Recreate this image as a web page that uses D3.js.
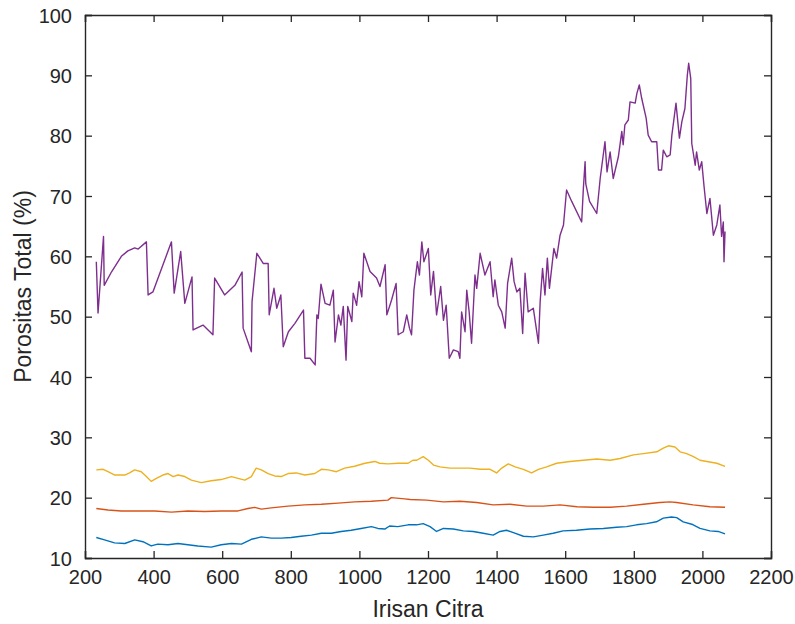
<!DOCTYPE html>
<html>
<head>
<meta charset="utf-8">
<script src="https://cdn.jsdelivr.net/npm/d3@7"></script>
<style>
  html, body { margin: 0; padding: 0; background: #fff; }
  svg { display: block; }
  text { font-family: "Liberation Sans", Arial, Helvetica, sans-serif; fill: #262626; }
</style>
</head>
<body>
<svg id="chart" width="795" height="624"></svg>
<script>
// ---- Data ----
const xLabel = "Irisan Citra";
const yLabel = "Porositas Total (%)";
const xTickValues = [200, 400, 600, 800, 1000, 1200, 1400, 1600, 1800, 2000, 2200];
const yTickValues = [10, 20, 30, 40, 50, 60, 70, 80, 90, 100];

const blueX = [233,257,286,316,345,369,393,412,442,471,500,529,568,597,627,656,685,714,743,772,801,830,860,889,918,947,976,1005,1035,1054,1074,1088,1112,1142,1167,1186,1206,1225,1245,1274,1303,1332,1361,1390,1410,1429,1449,1478,1507,1536,1565,1594,1633,1672,1711,1750,1779,1808,1837,1866,1886,1910,1925,1944,1969,1993,2022,2046,2066];
const blueY = [13.4,13.0,12.5,12.4,13.0,12.7,12.0,12.3,12.2,12.4,12.2,12.0,11.8,12.2,12.4,12.3,13.1,13.5,13.3,13.3,13.4,13.6,13.8,14.1,14.1,14.4,14.6,14.9,15.2,14.9,14.8,15.3,15.2,15.5,15.5,15.7,15.2,14.4,14.9,14.8,14.5,14.4,14.1,13.8,14.4,14.6,14.2,13.6,13.5,13.8,14.1,14.5,14.6,14.8,14.9,15.1,15.2,15.5,15.7,16.0,16.6,16.8,16.7,16.0,15.6,14.9,14.5,14.4,14.0];

const redX = [233,267,306,355,403,452,500,549,597,646,675,695,714,743,792,841,889,938,986,1035,1083,1093,1132,1148,1196,1245,1293,1342,1390,1439,1488,1536,1585,1634,1682,1731,1779,1828,1876,1905,1925,1973,2022,2066];
const redY = [18.2,17.95,17.8,17.8,17.8,17.6,17.8,17.7,17.8,17.8,18.2,18.4,18.1,18.3,18.6,18.8,18.9,19.1,19.3,19.4,19.6,20.0,19.8,19.7,19.6,19.3,19.4,19.2,18.8,18.9,18.6,18.6,18.8,18.5,18.4,18.4,18.6,18.9,19.2,19.3,19.2,18.8,18.5,18.4];

const yellowX = [233,253,267,287,316,330,345,364,379,393,408,427,442,457,471,491,510,539,568,597,627,646,666,685,699,714,734,753,772,792,816,841,870,889,909,933,957,986,1016,1045,1059,1083,1113,1142,1156,1167,1186,1201,1216,1235,1264,1293,1323,1352,1381,1400,1415,1434,1454,1478,1502,1522,1546,1575,1614,1653,1692,1731,1760,1799,1828,1867,1886,1901,1920,1935,1954,1974,1993,2013,2042,2066];
const yellowY = [24.6,24.7,24.3,23.75,23.75,24.1,24.6,24.3,23.5,22.7,23.2,23.75,24.0,23.5,23.75,23.5,22.9,22.5,22.8,23.0,23.5,23.2,22.9,23.5,24.9,24.6,24.0,23.6,23.5,24.0,24.1,23.75,24.0,24.7,24.6,24.3,24.9,25.2,25.7,26.0,25.7,25.6,25.7,25.7,26.2,26.2,26.8,26.2,25.4,25.1,24.9,24.9,24.9,24.7,24.7,24.1,24.9,25.6,25.1,24.7,24.1,24.7,25.1,25.7,26.0,26.2,26.4,26.2,26.5,27.1,27.3,27.6,28.2,28.6,28.4,27.6,27.3,26.8,26.2,26.0,25.7,25.2];

const purpleX = [233,238,254,256,277,306,325,345,355,379,384,398,452,460,479,491,512,515,544,573,578,607,637,658,661,685,687,701,720,734,737,751,759,771,778,793,812,837,841,856,871,876,880,888,900,914,924,929,939,946,953,961,966,978,982,992,999,1007,1013,1031,1050,1060,1075,1080,1094,1107,1113,1128,1138,1146,1152,1159,1169,1175,1182,1188,1201,1208,1216,1225,1237,1245,1253,1262,1274,1288,1293,1298,1308,1313,1320,1327,1337,1342,1352,1366,1381,1390,1395,1405,1415,1425,1432,1444,1451,1459,1468,1476,1483,1492,1507,1522,1527,1534,1541,1548,1554,1567,1575,1585,1595,1604,1619,1648,1653,1658,1660,1671,1692,1702,1716,1722,1731,1740,1755,1765,1769,1774,1784,1789,1804,1809,1816,1823,1836,1842,1852,1867,1872,1881,1886,1896,1906,1911,1923,1933,1940,1949,1956,1960,1966,1969,1979,1983,1991,1998,2005,2013,2022,2032,2042,2051,2056,2061,2063,2066];
const purpleY = [59.1,50.6,63.3,55.2,57.4,60.0,60.9,61.4,61.2,62.4,53.6,54.1,62.4,53.9,60.8,52.2,56.6,47.8,48.6,47.0,56.4,53.6,55.2,57.4,48.1,44.2,52.5,60.5,58.8,58.8,50.3,54.7,51.4,53.6,45.0,47.5,48.9,51.1,43.1,43.1,42.0,50.3,49.7,55.4,52.2,51.9,54.4,45.8,50.3,48.6,51.7,42.8,51.7,49.2,53.9,51.9,55.8,53.3,60.5,57.5,56.4,55.0,58.6,50.3,52.8,55.5,47.0,47.5,50.3,48.1,47.0,54.4,59.1,56.9,62.4,59.1,61.3,53.6,57.5,50.3,55.0,49.4,51.9,43.1,44.5,44.2,43.1,50.8,47.5,54.4,50.8,45.6,56.9,54.7,60.5,56.9,59.1,53.3,56.1,51.9,50.8,48.1,55.5,59.7,55.8,54.1,54.7,47.2,57.2,50.8,51.4,45.6,52.5,58.0,53.6,59.7,54.7,61.3,59.7,63.5,65.2,71.0,69.1,65.7,71.3,75.7,72.0,69.1,67.1,72.9,79.0,74.0,77.3,72.9,76.5,80.7,78.5,81.8,82.6,85.6,85.4,87.0,88.4,86.2,82.9,80.1,79.0,79.0,74.3,74.3,77.6,76.5,76.8,80.1,85.4,79.6,82.3,84.5,90.0,92.0,89.5,78.7,75.1,77.3,74.3,75.7,71.5,67.1,69.6,63.5,65.2,68.5,63.3,65.7,59.1,64.1];

const seriesColors = ["#0072BD", "#D95319", "#EDB120", "#7E2F8E"];

// ---- Layout ----
const W = 795, H = 624;
const margin = { left: 85, top: 15, right: 24, bottom: 66 };
const plotW = W - margin.left - margin.right;
const plotH = H - margin.top - margin.bottom;

const svg = d3.select("#chart");
svg.append("rect").attr("width", W).attr("height", H).attr("fill", "#fff");

const x = d3.scaleLinear().domain([200, 2200]).range([margin.left, margin.left + plotW]);
const y = d3.scaleLinear().domain([10, 100]).range([margin.top + plotH, margin.top]);

const series = [
  { xs: blueX, ys: blueY, color: seriesColors[0] },
  { xs: redX, ys: redY, color: seriesColors[1] },
  { xs: yellowX, ys: yellowY, color: seriesColors[2] },
  { xs: purpleX, ys: purpleY, color: seriesColors[3] }
];

const line = d3.line().x(d => x(d[0])).y(d => y(d[1]));

svg.append("g").selectAll("path")
  .data(series)
  .join("path")
  .attr("d", s => line(s.xs.map((v, i) => [v, s.ys[i]])))
  .attr("fill", "none")
  .attr("stroke", s => s.color)
  .attr("stroke-width", 1.4)
  .attr("stroke-linejoin", "round");

// ---- Axes ----
const axisColor = "#262626";
const tickLen = 7;

const gx = svg.append("g").attr("transform", `translate(0,${margin.top + plotH})`)
  .call(d3.axisBottom(x).tickValues(xTickValues).tickSize(-tickLen).tickPadding(12).tickFormat(d3.format("d")));
const gxTop = svg.append("g").attr("transform", `translate(0,${margin.top})`)
  .call(d3.axisTop(x).tickValues(xTickValues).tickSize(-tickLen).tickFormat(""));
const gy = svg.append("g").attr("transform", `translate(${margin.left},0)`)
  .call(d3.axisLeft(y).tickValues(yTickValues).tickSize(-tickLen).tickPadding(13).tickFormat(d3.format("d")));
const gyRight = svg.append("g").attr("transform", `translate(${margin.left + plotW},0)`)
  .call(d3.axisRight(y).tickValues(yTickValues).tickSize(-tickLen).tickFormat(""));

[gx, gxTop, gy, gyRight].forEach(g => {
  g.select(".domain").attr("stroke", axisColor).attr("stroke-width", 1.4);
  g.selectAll(".tick line").attr("stroke", axisColor).attr("stroke-width", 1.3);
  g.selectAll(".tick text").attr("fill", "#333").style("font-size", "20px")
    .style("font-family", '"Liberation Sans", Arial, Helvetica, sans-serif');
});
gy.selectAll(".tick text").attr("dy", "0.36em");

// ---- Labels ----
svg.append("text")
  .attr("x", margin.left + plotW / 2)
  .attr("y", 617)
  .attr("text-anchor", "middle")
  .style("font-size", "23px")
  .attr("fill", "#333")
  .text(xLabel);

svg.append("text")
  .attr("transform", `translate(31,${margin.top + plotH / 2}) rotate(-90)`)
  .attr("text-anchor", "middle")
  .style("font-size", "23px")
  .attr("fill", "#333")
  .text(yLabel);
</script>
</body>
</html>
